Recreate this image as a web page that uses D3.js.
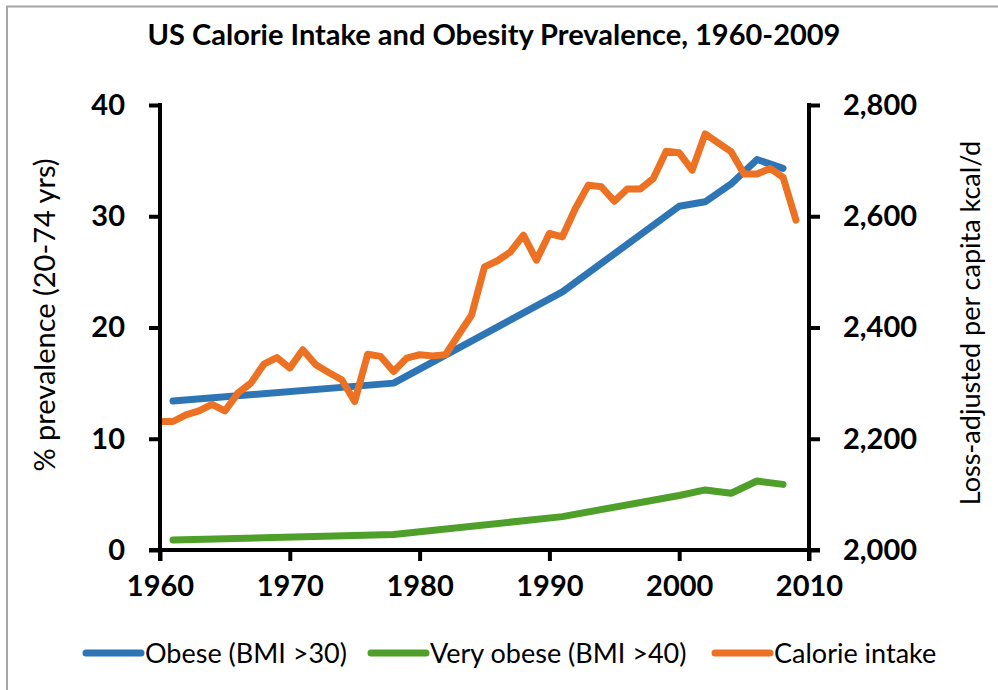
<!DOCTYPE html>
<html>
<head>
<meta charset="utf-8">
<script src="https://cdn.jsdelivr.net/npm/d3@7"></script>
<style>
  body { margin: 0; background: #fff; }
  svg { display: block; font-family: Lato, "Open Sans", sans-serif; }
</style>
</head>
<body>
<svg class="main"></svg>
<script>
// obesity survey points (year, %)
let obeseYears = [1961, 1978, 1991, 2000, 2002, 2004, 2006, 2008];
let obeseValues = [13.4, 15.0, 23.2, 30.9, 31.3, 32.9, 35.1, 34.3];
let veryObeseValues = [0.9, 1.4, 3.0, 4.9, 5.4, 5.1, 6.2, 5.9];

// calorie intake, one value per year 1960-2009
let calorieYears = d3.range(1960, 2010);
let calorieValues = [
  2231, 2231, 2243, 2250, 2262, 2250, 2282, 2300, 2334, 2346,
  2327, 2360, 2333, 2319, 2306, 2267, 2352, 2348, 2321, 2345,
  2351, 2349, 2351, 2387, 2422, 2509, 2520, 2536, 2566, 2521,
  2569, 2563, 2614, 2656, 2653, 2627, 2649, 2649, 2668, 2717,
  2714, 2683, 2748, 2732, 2716, 2676, 2676, 2686, 2670, 2593
];

let xTicks = [1960, 1970, 1980, 1990, 2000, 2010];
let leftTicks = [0, 10, 20, 30, 40];
let rightTicks = [2000, 2200, 2400, 2600, 2800];

let seriesNames = ["Obese (BMI >30)", "Very obese (BMI >40)", "Calorie intake"];
let seriesColors = ["#2e75b6", "#4ea02a", "#ec7122"];

let w = 998;
let h = 690;
let plotLeft = 160, plotRight = 809, plotTop = 105, plotBottom = 550;

let svg = d3.select('.main')
    .attr("width", w)
    .attr("height", h);

// chart frame
svg.append('rect')
    .attr('x', 7).attr('y', 6.5)
    .attr('width', w + 20).attr('height', h + 20)
    .attr('fill', '#fff')
    .attr('stroke', '#a6a6a6')
    .attr('stroke-width', 2);

let x = d3.scaleLinear().domain([1960, 2010]).range([plotLeft, plotRight]);
let yL = d3.scaleLinear().domain([0, 40]).range([plotBottom, plotTop]);
let yR = d3.scaleLinear().domain([2000, 2800]).range([plotBottom, plotTop]);

svg.append('text')
    .attr('x', 494).attr('y', 45)
    .attr('text-anchor', 'middle')
    .attr('font-size', 29)
    .attr('font-weight', 'bold')
    .text('US Calorie Intake and Obesity Prevalence, 1960-2009');

// lines
let obese = obeseYears.map((yr, i) => [yr, obeseValues[i]]);
let veryObese = obeseYears.map((yr, i) => [yr, veryObeseValues[i]]);
let calories = calorieYears.map((yr, i) => [yr, calorieValues[i]]);

let lineL = d3.line().x(d => x(d[0])).y(d => yL(d[1]));
let lineR = d3.line().x(d => x(d[0])).y(d => yR(d[1]));

svg.append('clipPath').attr('id', 'plot')
    .append('rect').attr('x', plotLeft).attr('y', 0).attr('width', w).attr('height', h);

let lines = svg.append('g')
    .attr('fill', 'none')
    .attr('stroke-width', 7)
    .attr('stroke-linejoin', 'round')
    .attr('stroke-linecap', 'round')
    .attr('clip-path', 'url(#plot)');

lines.append('path').attr('d', lineL(obese)).attr('stroke', seriesColors[0]);
lines.append('path').attr('d', lineL(veryObese)).attr('stroke', seriesColors[1]);
lines.append('path').attr('d', lineR(calories)).attr('stroke', seriesColors[2]);

// axes
let styleAxis = g => {
    g.select('.domain').remove();
    g.selectAll('.tick line').attr('stroke', '#000').attr('stroke-width', 4);
    g.selectAll('.tick text')
        .attr('fill', '#000')
        .attr('font-size', 29)
        .attr('font-weight', 'bold')
        .attr('font-family', 'Lato, sans-serif');
};

svg.append('g')
    .attr('transform', `translate(0,${plotBottom})`)
    .call(d3.axisBottom(x).tickValues(xTicks).tickFormat(d3.format('d')).tickSize(11).tickPadding(14))
    .call(styleAxis);

svg.append('g')
    .attr('transform', `translate(${plotLeft},0)`)
    .call(d3.axisLeft(yL).tickValues(leftTicks).tickSize(11).tickPadding(24))
    .call(styleAxis);

svg.append('g')
    .attr('transform', `translate(${plotRight},0)`)
    .call(d3.axisRight(yR).tickValues(rightTicks).tickFormat(d3.format(',')).tickSize(11).tickPadding(23))
    .call(styleAxis);

// axis lines drawn on top
let axisLines = svg.append('g').attr('stroke', '#000').attr('stroke-width', 4);
axisLines.append('line').attr('x1', plotLeft).attr('x2', plotLeft).attr('y1', plotTop - 2).attr('y2', plotBottom + 11);
axisLines.append('line').attr('x1', plotRight).attr('x2', plotRight).attr('y1', plotTop - 2).attr('y2', plotBottom + 11);
axisLines.append('line').attr('x1', plotLeft - 11).attr('x2', plotRight + 11).attr('y1', plotBottom).attr('y2', plotBottom);

// axis titles
svg.append('text')
    .attr('transform', `translate(55,315) rotate(-90)`)
    .attr('text-anchor', 'middle')
    .attr('font-size', 29)
    .text('% prevalence (20-74 yrs)');

svg.append('text')
    .attr('transform', `translate(980,323) rotate(-90)`)
    .attr('text-anchor', 'middle')
    .attr('font-size', 27)
    .text('Loss-adjusted per capita kcal/d');

// legend
let legendX = [86, 371, 715];
let legend = svg.append('g').attr('transform', 'translate(0,653)');
seriesNames.forEach((name, i) => {
    legend.append('line')
        .attr('x1', legendX[i]).attr('x2', legendX[i] + 55)
        .attr('y1', 0).attr('y2', 0)
        .attr('stroke', seriesColors[i])
        .attr('stroke-width', 7)
        .attr('stroke-linecap', 'round');
    legend.append('text')
        .attr('x', legendX[i] + 59)
        .attr('y', 10)
        .attr('font-size', 27)
        .text(name);
});
</script>
</body>
</html>
